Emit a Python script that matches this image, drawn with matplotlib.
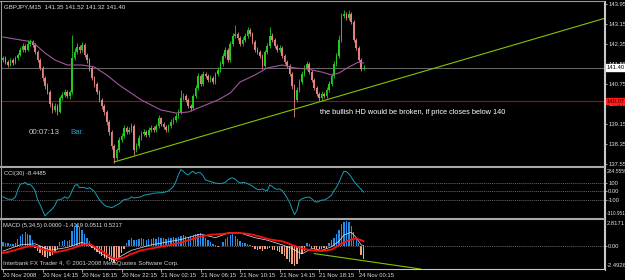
import matplotlib
matplotlib.use("Agg")
import matplotlib.pyplot as plt
from matplotlib.lines import Line2D
import numpy as np

plt.rcParams['font.family'] = ['Liberation Sans', 'DejaVu Sans']

# ---------------- data (GBPJPY M15) ----------------
first_open = 141.71
close = [141.79, 141.63, 141.51, 141.71, 141.59, 141.79, 141.91, 142.11, 142.27, 142.11,
         142.35, 142.43, 142.31, 142.03, 141.71, 141.39, 140.99, 140.67, 140.43, 139.95,
         139.71, 139.87, 139.63, 140.19, 140.31, 140.43, 140.27, 140.43, 141.79, 142.03,
         142.23, 142.11, 142.31, 141.91, 141.71, 141.39, 140.99, 140.75, 140.43, 140.11,
         139.87, 139.63, 139.23, 138.83, 138.27, 137.79, 138.11, 138.51, 138.67, 138.99,
         138.83, 138.91, 139.07, 138.11, 138.27, 138.59, 138.75, 138.83, 138.71, 138.91,
         138.99, 138.91, 139.07, 139.39, 139.15, 139.03, 138.91, 139.07, 139.23, 139.31,
         139.47, 139.63, 140.19, 140.27, 140.11, 139.87, 139.79, 140.27, 140.59, 141.07,
         140.75, 141.15, 141.07, 140.91, 140.99, 140.83, 141.15, 141.31, 141.55, 141.87,
         142.11, 141.71, 142.35, 142.67, 142.75, 142.59, 142.35, 142.51, 142.67, 142.91,
         142.75, 142.43, 142.11, 142.03, 141.87, 141.47, 142.03, 142.27, 142.67, 142.51,
         142.27, 142.11, 142.19, 141.87, 141.63, 141.47, 141.15, 140.67, 140.11, 140.51,
         140.83, 141.15, 141.39, 141.55, 141.23, 140.91, 140.59, 140.35, 140.19, 140.35,
         140.27, 140.51, 140.75, 141.07, 141.55, 141.87, 142.51, 143.47, 143.55, 143.39,
         143.55, 143.23, 142.51, 142.19, 141.71, 141.35, 141.40]
high = [141.87, 141.87, 141.71, 141.79, 141.79, 141.87, 141.99, 142.23, 142.39, 142.35,
        142.51, 142.55, 142.51, 142.39, 142.11, 141.79, 141.47, 141.07, 140.79, 140.51,
        140.03, 139.99, 139.95, 140.27, 140.43, 140.55, 140.51, 140.51, 142.71, 142.19,
        142.39, 142.31, 142.43, 142.39, 141.99, 141.79, 141.47, 141.07, 140.83, 140.51,
        140.19, 139.95, 139.71, 139.31, 138.91, 138.35, 138.19, 138.63, 138.79, 139.11,
        139.07, 139.03, 139.19, 139.15, 138.39, 138.71, 138.87, 138.95, 138.91, 139.03,
        139.11, 139.07, 139.15, 139.51, 139.43, 139.23, 139.11, 139.15, 139.35, 139.43,
        139.59, 139.75, 140.51, 140.39, 140.35, 140.19, 139.95, 140.35, 140.71, 141.19,
        141.15, 141.27, 141.23, 141.15, 141.11, 141.07, 141.23, 141.43, 141.67, 141.99,
        142.23, 142.19, 142.47, 142.79, 143.11, 142.83, 142.67, 142.63, 142.79, 143.03,
        142.99, 142.83, 142.51, 142.23, 142.11, 141.95, 142.11, 142.39, 143.03, 142.79,
        142.59, 142.35, 142.31, 142.27, 141.95, 141.71, 141.55, 141.23, 140.75, 140.63,
        140.95, 141.27, 141.51, 141.67, 141.63, 141.31, 140.99, 140.67, 140.43, 140.47,
        140.43, 140.63, 140.87, 141.19, 141.67, 141.99, 142.71, 143.59, 143.71, 143.63,
        143.71, 143.63, 143.31, 142.59, 142.27, 141.79, 141.52]
low = [141.63, 141.55, 141.43, 141.47, 141.51, 141.55, 141.71, 141.87, 142.03, 142.03,
       142.07, 142.27, 142.23, 141.95, 141.63, 141.31, 140.87, 140.55, 140.35, 139.83,
       139.59, 139.63, 139.51, 139.59, 140.11, 140.23, 140.19, 140.15, 140.35, 141.71,
       141.95, 141.99, 142.03, 141.83, 141.59, 141.27, 140.91, 140.63, 140.35, 140.03,
       139.75, 139.51, 139.11, 138.71, 138.15, 137.59, 137.71, 138.03, 138.43, 138.59,
       138.75, 138.75, 138.83, 137.91, 138.03, 138.19, 138.51, 138.67, 138.63, 138.63,
       138.83, 138.83, 138.83, 138.99, 139.07, 138.95, 138.83, 138.83, 138.99, 139.15,
       139.23, 139.39, 139.55, 140.11, 140.03, 139.79, 139.67, 139.71, 140.19, 140.51,
       140.67, 140.67, 140.99, 140.83, 140.83, 140.75, 140.75, 141.07, 141.23, 141.47,
       141.79, 141.63, 141.63, 142.27, 142.59, 142.51, 142.27, 142.27, 142.43, 142.59,
       142.67, 142.35, 142.03, 141.95, 141.79, 141.35, 141.39, 141.95, 142.19, 142.43,
       142.19, 142.03, 142.03, 141.79, 141.55, 141.39, 141.07, 140.55, 139.43, 140.03,
       140.43, 140.75, 141.07, 141.31, 141.15, 140.83, 140.51, 140.27, 140.07, 140.11,
       140.19, 140.19, 140.43, 140.67, 140.99, 141.47, 141.79, 142.43, 143.39, 143.31,
       143.31, 143.15, 142.43, 142.11, 141.63, 141.27, 141.32]

ma_x = [0, 12, 17, 21, 26, 32, 37, 42, 47, 50, 56, 64, 70, 75, 80, 87, 92, 96, 102, 107,
        113, 118, 123, 129, 133, 136, 140, 144, 146]
ma_y = [142.63, 142.43, 141.99, 141.71, 141.51, 141.51, 141.43, 141.11, 140.71, 140.51,
        140.11, 139.71, 139.59, 139.63, 139.83, 140.11, 140.39, 140.83, 141.11, 141.39,
        141.51, 141.39, 141.35, 141.23, 141.11, 141.19, 141.43, 141.63, 141.59]

trend_x = [45, 244]
trend_y = [137.63, 143.39]
bid_line = 141.40
level_line = 140.07

cci = [-65, -80, -95, -95, -95, -70, 20, 87, 95, 110,
       80, 85, 55, 10, -100, -160, -230, -298, -265, -240,
       -210, -170, -105, -100, -90, -65, -85, -60, 10, 70,
       85, 44, 50, 45, 35, 44, 25, 0, -50, -100,
       -135, -165, -183, -190, -196, -185, -165, -150, -125, -100,
       -95, -90, -65, -80, -75, -70, -65, -45, -40, -35,
       -30, -22, -20, -18, -15, -12, -5, 5, 33, 60,
       120, 200, 265, 245, 215, 200, 230, 245, 215, 230,
       225, 190, 140, 130, 120, 110, 100, 98, 95, 100,
       110, 140, 160, 165, 150, 120, 100, 110, 105, 95,
       80, 65, 40, 25, 20, 30, 15, 10, 80, 60,
       35, 25, 30, 10, -30, -80, -130, -210, -283, -230,
       -110, -90, -80, -70, -70, -90, -120, -130, -120, -105,
       -105, -90, -70, -45, 10, 50, 110, 180, 245, 240,
       215, 175, 125, 90, 55, 25, -8.45]
cci_levels = [100, 0, -100]

macd_hist = [0.4, 0.35, 0.3, 0.25, 0.2, 0.3, 0.8, 1.1, 1.3, 1.5,
             1.35, 1.2, 0.6, -0.2, -0.5, -0.8, -1.0, -1.2, -1.25, -1.1,
             -1.0, -0.8, -0.3, 0.4, 0.5, 0.6, 0.55, 0.7, 1.6, 2.1,
             2.35, 2.1, 1.7, 1.3, 0.9, 0.5, -0.2, -0.4, -0.6, -0.9,
             -1.1, -1.3, -1.45, -1.6, -1.75, -1.8, -1.6, -1.2, -0.8, -0.3,
             0.3, 0.7, 0.85, 0.6, 0.7, 0.8, 0.85, 0.8, 0.7, 0.75,
             0.8, 0.85, 0.8, 0.95, 0.9, 0.85, 0.8, 0.85, 0.9, 0.95,
             0.9, 0.95, 1.1, 1.15, 1.05, 1.0, 1.1, 1.2, 1.25, 1.35,
             1.4, 1.2, 0.9, 0.6, 0.4, 0.2, 0.1, -0.1, 0.05, 0.4,
             0.8, 1.0, 1.15, 1.25, 1.1, 0.8, 0.5, 0.35, 0.3, 0.25,
             0.15, -0.1, -0.3, -0.4, -0.35, -0.5, -0.35, -0.3, -0.25, -0.4,
             -0.45, -0.55, -0.65, -0.85, -1.1, -1.4, -1.7, -2.0, -2.2, -1.9,
             -1.4, -0.9, -0.5, 0.3, 0.2, -0.2, -0.3, -0.3, -0.35, -0.3,
             -0.25, -0.2, 0.3, 0.6, 0.9, 1.3, 1.7, 2.4, 2.6, 2.75,
             2.6, 2.2, 1.5, 0.9, 0.3, -1.0, -1.41]
main_x = [0, 7, 13, 19, 26, 32, 36, 40, 45, 48, 52, 60, 72, 80, 86, 92, 96, 102, 107, 113,
          117, 121, 125, 129, 133, 136, 138, 141, 143, 145, 146]
main_y = [-0.55, 0.12, 0.24, -0.47, -0.16, 0.39, 0.0, -0.86, -1.57, -1.06,
          -0.47, 0.12, 0.70, 1.29, 0.90, 1.49, 1.41, 0.90, 0.63, 0.12,
          -0.27, -0.86, -0.27, -0.47, -0.08, 0.51, 1.18, 1.49, 0.90, 0.12, 0.05]
sig_x = [0, 3, 7, 11, 13, 15, 19, 21, 24, 28, 32, 35, 37, 40, 44, 46, 49, 52, 56, 60,
         64, 68, 72, 76, 80, 84, 88, 92, 96, 100, 104, 108, 113, 117, 121, 125, 129, 133,
         135, 138, 140, 143, 145, 146]
sig_y = [-0.75, -0.59, -0.27, 0.0, 0.0, -0.27, -0.55, -0.67, -0.55, -0.27,
         0.12, 0.24, -0.08, -0.55, -1.25, -1.45, -1.25, -0.86, -0.47, -0.27,
         -0.08, 0.12, 0.39, 0.71, 1.02, 1.22, 1.29, 1.41, 1.41, 1.29,
         1.02, 0.71, 0.51, 0.12, -0.27, -0.47, -0.55, -0.39, -0.08, 0.39,
         0.63, 0.82, 0.63, 0.52]
macd_trend_x = [126, 169]
macd_trend_y = [-0.82, -2.49]

price_ticks = [137.55, 138.35, 139.15, 139.95, 140.75, 141.55, 142.35, 143.15, 143.95]
time_ticks = [0, 16, 32, 48, 64, 80, 96, 112, 128, 144]
time_labels = ['20 Nov 2008', '20 Nov 14:15', '20 Nov 18:15', '20 Nov 22:15', '21 Nov 02:15',
               '21 Nov 06:15', '21 Nov 10:15', '21 Nov 14:15', '21 Nov 18:15', '24 Nov 00:15']

# ---------------- figure ----------------
W, H = 625, 280
fig = plt.figure(figsize=(W / 100, H / 100), dpi=100, facecolor='black')


def rect(x0, y0, x1, y1):
    return [x0 / W, 1 - y1 / H, (x1 - x0) / W, (y1 - y0) / H]


FG = '#e0e0e0'
FS = 4.2
XL = (-0.4, 243.3)
ax = fig.add_axes(rect(2, 2, 604, 166))
axc = fig.add_axes(rect(2, 168, 604, 217))
axm = fig.add_axes(rect(2, 220, 604, 269))
for a in (ax, axc, axm):
    a.set_facecolor('black')
    a.set_xlim(*XL)
    for s in a.spines.values():
        s.set_visible(False)
    a.spines['right'].set_visible(True)
    a.spines['right'].set_color('#c8c8c8')
    a.spines['right'].set_linewidth(0.8)
    a.yaxis.tick_right()
    a.tick_params(axis='y', colors=FG, labelsize=FS, length=2, width=0.5, pad=1)
    a.tick_params(axis='x', bottom=False, labelbottom=False)

# ---- main price panel ----
idx = np.arange(len(close))
c = np.array(close)
o = np.r_[first_open, c[:-1]]
hi = np.array(high)
lo = np.array(low)
bull = c >= o
cols = np.where(bull, '#1fcc1f', '#e08080')
ax.set_ylim(137.47, 144.03)
ax.set_yticks(price_ticks)
ax.set_yticklabels([f'{v:.2f}' for v in price_ticks])
ax.axhline(bid_line, color='#7a7a7a', lw=0.6, zorder=1)
ax.axhline(level_line, color='#c00000', lw=0.8, zorder=1)
ax.vlines(idx, lo, hi, colors=cols, lw=0.6, zorder=3)
ax.bar(idx, np.maximum(np.abs(c - o), 0.02), bottom=np.minimum(o, c), width=0.66,
       color=cols, linewidth=0, zorder=3)
ax.plot(ma_x, ma_y, color='#a0589c', lw=0.8, zorder=4)
ax.plot(trend_x, trend_y, color='#84c400', lw=0.8, zorder=4)
tr = ax.get_yaxis_transform()
ax.text(1.004, bid_line, f'{bid_line:.2f}', transform=tr, color='black', fontsize=FS,
        va='center', ha='left', clip_on=False, zorder=10,
        bbox=dict(boxstyle='square,pad=0.15', fc='white', ec='white'))
ax.text(1.004, level_line, f'{level_line:.2f}', transform=tr, color='#300000', fontsize=FS,
        va='center', ha='left', clip_on=False, zorder=10,
        bbox=dict(boxstyle='square,pad=0.15', fc='#ff1a1a', ec='#ff1a1a'))

# ---- CCI panel ----
axc.set_ylim(-310.9514, 284.5559)
for lvl in cci_levels:
    axc.axhline(lvl, color='#8a8a8a', lw=0.5, ls=(0, (1.5, 1.5)))
axc.plot(idx, cci, color='#1a9fb4', lw=0.7)
axc.set_yticks(cci_levels)
axc.set_yticklabels(['100', '0.00', '-100'])
axc.text(1.004, 0.98, '284.5559', transform=axc.transAxes, color=FG, fontsize=3.6,
         va='top', ha='left', clip_on=False)
axc.text(1.004, 0.02, '-310.9514', transform=axc.transAxes, color=FG, fontsize=3.4,
         va='bottom', ha='left', clip_on=False)

# ---- MACD panel ----
axm.set_ylim(-2.4926, 2.8171)
hcols = np.where(np.array(macd_hist) >= 0, '#1f8ff0', '#f4a283')
axm.axhline(0, color='#8a8a8a', lw=0.5, ls=(0, (1.5, 1.5)))
axm.bar(idx, macd_hist, width=0.55, color=hcols, linewidth=0)
axm.plot(main_x, main_y, color='#e8e8e8', lw=0.5)
axm.plot(sig_x, sig_y, color='#ff1010', lw=1.3)
axm.plot(macd_trend_x, macd_trend_y, color='#84c400', lw=0.8)
axm.set_yticks([0])
axm.set_yticklabels(['0.00'])
axm.text(1.004, 0.98, '2.8171', transform=axm.transAxes, color=FG, fontsize=FS,
         va='top', ha='left', clip_on=False)
axm.text(1.004, 0.02, '-2.4926', transform=axm.transAxes, color=FG, fontsize=FS,
         va='bottom', ha='left', clip_on=False)
axm.spines['bottom'].set_visible(True)
axm.spines['bottom'].set_color('#c8c8c8')
axm.spines['bottom'].set_linewidth(0.8)
axm.set_xticks(time_ticks)
axm.set_xticklabels(time_labels, ha='left')
axm.tick_params(axis='x', bottom=True, labelbottom=True, colors=FG, labelsize=FS,
                length=2, width=0.5, pad=1)

# ---- frame / separators ----
def fline(x0, y0, x1, y1, color, lw):
    fig.add_artist(Line2D([x0 / W, x1 / W], [1 - y0 / H, 1 - y1 / H], color=color, lw=lw,
                          transform=fig.transFigure))

fline(0, 167, 604.5, 167, '#a8a8a8', 1.5)
fline(0, 218.5, 604.5, 218.5, '#a8a8a8', 1.5)
fline(0, 1, 604.5, 1, '#9a9a9a', 0.8)
fline(1, 1, 1, 269, '#9a9a9a', 0.8)
fline(604.5, 1, 604.5, 270, '#c8c8c8', 0.8)

# ---- texts ----
def ftext(x, y, s, color, size):
    fig.text(x / W, 1 - y / H, s, color=color, fontsize=size, va='center', ha='left')

ftext(4, 7, 'GBPJPY,M15  141.35 141.52 141.32 141.40', FG, 4.4)
ftext(29, 133, '00:07:13', '#c8c8c8', 5.8)
ftext(70, 133, 'Bar.', '#1ea0c8', 5.8)
ftext(320, 112, 'the bullish HD would be broken, if price closes below 140', 'white', 5.3)
ftext(4, 174, 'CCI(30) -8.4485', FG, 4.2)
ftext(3, 226, 'MACD (5,34,5) 0.0000 -1.4119 0.0511 0.5217', FG, 4.2)
ftext(3, 263, 'Interbank FX Trader 4, \u00a9 2001-2008 MetaQuotes Software Corp.', '#d0d0d0', 4.4)

fig.savefig('out.png', dpi=100, facecolor='black')
